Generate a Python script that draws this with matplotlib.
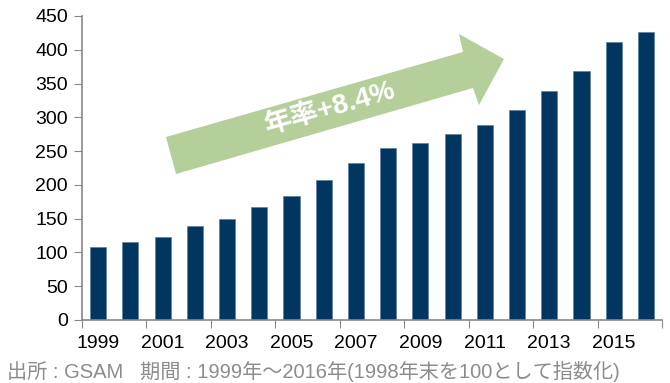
import matplotlib.pyplot as plt
from matplotlib.patches import Polygon

plt.rcParams['font.family'] = ['Liberation Sans', 'Noto Sans CJK JP', 'DejaVu Sans']

# index values (1998 year-end = 100)
years = list(range(1999, 2017))
values = [108, 115, 123, 139, 149, 167, 184, 207, 233, 255, 262, 275, 289, 311, 339, 369, 412, 426]
tick_labels = [str(y) for y in years[::2]]

fig = plt.figure(figsize=(6.7, 3.83), dpi=100)
ax = fig.add_axes([82 / 670, 1 - 320 / 383, 580 / 670, 304 / 383])

x = list(range(len(years)))
ax.bar(x, values, width=0.5, color='#003660', edgecolor='#5f7f9f', linewidth=0.5, zorder=2)

ax.set_xlim(-0.5, len(years) - 0.5)
ax.set_ylim(0, 450)
ax.set_yticks(range(0, 451, 50))
ax.tick_params(axis='y', labelsize=14, length=6, color='#888888', pad=4)

# major ticks on category boundaries, labels on odd years
ax.set_xticks([i - 0.5 for i in range(0, len(years) + 1, 2)])
ax.set_xticklabels([])
ax.set_xticks(x[::2], minor=True)
ax.set_xticklabels(tick_labels, minor=True)
ax.tick_params(axis='x', which='major', length=6, color='#888888')
ax.tick_params(axis='x', which='minor', length=0, labelsize=14, pad=11)

for s in ['top', 'right']:
    ax.spines[s].set_visible(False)
for s in ['left', 'bottom']:
    ax.spines[s].set_color('#888888')
    ax.spines[s].set_linewidth(1.2)

# growth arrow (figure pixel coordinates)
pts = [(166, 137), (463, 52), (459, 34), (504, 59), (479, 105), (473, 88), (176, 174)]
arrow = Polygon([(px / 670, 1 - py / 383) for px, py in pts], closed=True,
                transform=fig.transFigure, facecolor='#b5cf9b', edgecolor='none', zorder=3)
fig.patches.append(arrow)
fig.text(330 / 670, 1 - 109 / 383, '年率+8.4%', color='white', fontsize=20, fontweight='bold',
         rotation=16, ha='center', va='center', zorder=4)

fig.text(7 / 670, 1 - 372 / 383, '出所 : GSAM   期間 : 1999年～2016年(1998年末を100として指数化)',
         color='#8c8c8c', fontsize=14.5, ha='left', va='center')

fig.savefig('out.png', dpi=100)
